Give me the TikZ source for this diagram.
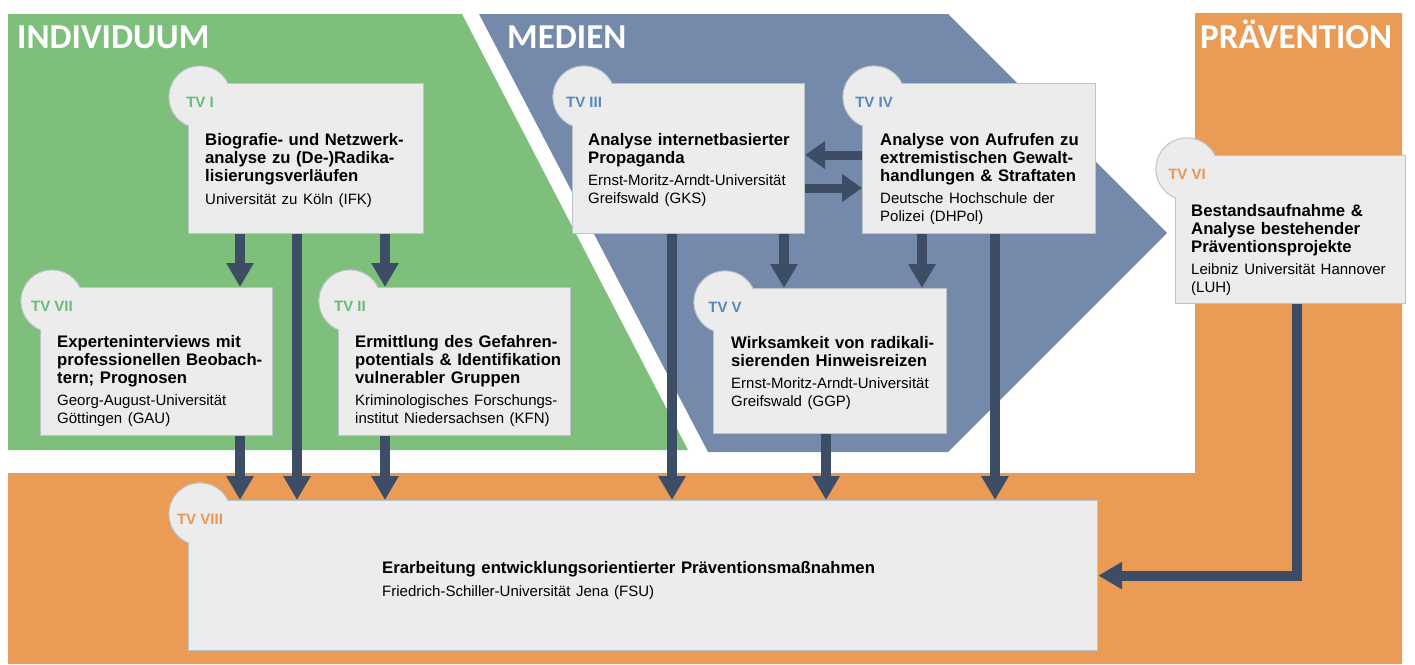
\documentclass[tikz,border=0pt]{standalone}
\usepackage{fontspec}
\setmainfont{Liberation Sans}
\newfontfamily\headfont{Carlito}
\usepackage{tikz}
\usetikzlibrary{arrows.meta,positioning}

\definecolor{indgreen}{RGB}{126,192,123}
\definecolor{medblue}{RGB}{117,138,170}
\definecolor{prevorange}{RGB}{234,156,86}
\definecolor{arrowblue}{RGB}{61,77,101}
\definecolor{boxgray}{RGB}{236,236,237}
\definecolor{boxline}{RGB}{188,195,203}
\definecolor{lblgreen}{RGB}{104,187,120}
\definecolor{lblblue}{RGB}{90,135,185}
\definecolor{lblorange}{RGB}{235,150,80}

\newcommand{\tvinst}{\par\vspace{5pt}\fontsize{15}{17}\selectfont\mdseries}

\begin{document}
\begin{tikzpicture}[x=1pt,y=-1pt]
	\tikzset{
		area title/.style={anchor=base west, inner sep=0pt, text=white, font=\headfont\bfseries\fontsize{35}{35}\selectfont},
		tvbox/.style={rectangle, draw=boxline, line width=1.2pt, fill=boxgray, anchor=north west, inner sep=0pt},
		bubble/.style={circle, draw=boxline, line width=1.2pt, fill=boxgray, minimum size=62pt, inner sep=0pt},
		cover/.style={circle, fill=boxgray, minimum size=60.8pt, inner sep=0pt, text height=21pt, text depth=0pt, font=\fontsize{15}{15}\selectfont\bfseries},
		tvtext/.style={anchor=base west, align=left, text width=520pt, inner sep=0pt, font=\fontsize{16.7}{18.3}\selectfont\bfseries},
		arr/.style={draw=arrowblue, line width=10pt, -{Triangle[width=26pt,length=24pt]}},
		sidearr/.style={draw=arrowblue, line width=9pt, -{Triangle[width=27pt,length=20pt]}}
	}
	\useasboundingbox (0,0) rectangle (1415,664);

	% areas
	\fill[indgreen] (8,14) -- (462,14) -- (688,450) -- (8,450) -- cycle;
	\fill[medblue] (479,14) -- (948,14) -- (1167,233) -- (948,452) -- (708,452) -- cycle;
	\fill[prevorange] (8,473) -- (1195,473) -- (1195,13) -- (1402,13) -- (1402,664) -- (8,664) -- cycle;
	\node[area title] (individuum) at (17,48) {INDIVIDUUM};
	\node[area title] (medien) at (507,48) {MEDIEN};
	\node[area title] (praevention) at (1200,48) {PRÄVENTION};

	% TV I
	\node[bubble] (b1b) at (200,97) {};
	\node[tvbox, minimum width=235pt, minimum height=150pt] (b1) at (188,83) {};
	\node[cover, text=lblgreen] (b1c) at (b1b) {TV I};
	\node[tvtext] (t1) at ([shift={(17,62)}]b1.north west) {Biografie- und Netzwerk-\\analyse zu (De-)Radika-\\lisierungsverläufen\tvinst Universität zu Köln (IFK)};

	% TV III
	\node[bubble] (b3b) at (584,97) {};
	\node[tvbox, minimum width=232pt, minimum height=150pt] (b3) at (572,83) {};
	\node[cover, text=lblblue] (b3c) at (b3b) {TV III};
	\node[tvtext] (t3) at ([shift={(16,62)}]b3.north west) {Analyse internetbasierter\\Propaganda\tvinst Ernst-Moritz-Arndt-Universität\\Greifswald (GKS)};

	% TV IV
	\node[bubble] (b4b) at (874,97) {};
	\node[tvbox, minimum width=233pt, minimum height=150pt] (b4) at (862,83) {};
	\node[cover, text=lblblue] (b4c) at (b4b) {TV IV};
	\node[tvtext] (t4) at ([shift={(18,62)}]b4.north west) {Analyse von Aufrufen zu\\extremistischen Gewalt-\\handlungen \& Straftaten\tvinst Deutsche Hochschule der\\Polizei (DHPol)};

	% TV VI
	\node[bubble] (b6b) at (1187,169) {};
	\node[tvbox, minimum width=230pt, minimum height=148pt] (b6) at (1175,155) {};
	\node[cover, text=lblorange] (b6c) at (b6b) {TV VI};
	\node[tvtext] (t6) at ([shift={(16,61)}]b6.north west) {Bestandsaufnahme \&\\Analyse bestehender\\Präventionsprojekte\tvinst Leibniz Universität Hannover\\(LUH)};

	% TV VII
	\node[bubble] (b7b) at (52,301) {};
	\node[tvbox, minimum width=232pt, minimum height=148pt] (b7) at (40,287) {};
	\node[cover, text=lblgreen] (b7c) at (b7b) {TV VII};
	\node[tvtext] (t7) at ([shift={(17,60)}]b7.north west) {Experteninterviews mit\\professionellen Beobach-\\tern; Prognosen\tvinst Georg-August-Universität\\Göttingen (GAU)};

	% TV II
	\node[bubble] (b2b) at (350,301) {};
	\node[tvbox, minimum width=232pt, minimum height=148pt] (b2) at (338,287) {};
	\node[cover, text=lblgreen] (b2c) at (b2b) {TV II};
	\node[tvtext] (t2) at ([shift={(17,60)}]b2.north west) {Ermittlung des Gefahren-\\potentials \& Identifikation\\vulnerabler Gruppen\tvinst Kriminologisches Forschungs-\\institut Niedersachsen (KFN)};

	% TV V
	\node[bubble] (b5b) at (725,302) {};
	\node[tvbox, minimum width=233pt, minimum height=145pt] (b5) at (713,288) {};
	\node[cover, text=lblblue] (b5c) at (b5b) {TV V};
	\node[tvtext] (t5) at ([shift={(18,60)}]b5.north west) {Wirksamkeit von radikali-\\sierenden Hinweisreizen\tvinst Ernst-Moritz-Arndt-Universität\\Greifswald (GGP)};

	% TV VIII
	\node[bubble] (b8b) at (200,514) {};
	\node[tvbox, minimum width=909pt, minimum height=150pt] (b8) at (188,500) {};
	\node[cover, text=lblorange] (b8c) at (b8b) {TV VIII};
	\node[tvtext] (t8) at ([shift={(194,73)}]b8.north west) {Erarbeitung entwicklungsorientierter Präventionsmaßnahmen\tvinst Friedrich-Schiller-Universität Jena (FSU)};

	% connections
	\draw[arr] ([xshift=52pt]b1.south west) -- ([xshift=200pt]b7.north west);
	\draw[arr] ([xshift=109pt]b1.south west) -- ([xshift=109pt]b8.north west);
	\draw[arr] ([xshift=197pt]b1.south west) -- ([xshift=47pt]b2.north west);
	\draw[arr] ([xshift=200pt]b7.south west) -- ([xshift=52pt]b8.north west);
	\draw[arr] ([xshift=47pt]b2.south west) -- ([xshift=197pt]b8.north west);
	\draw[arr] ([xshift=100pt]b3.south west) -- ([xshift=484pt]b8.north west);
	\draw[arr] ([xshift=212pt]b3.south west) -- ([xshift=71pt]b5.north west);
	\draw[arr] ([xshift=60pt]b4.south west) -- ([xshift=209pt]b5.north west);
	\draw[arr] ([xshift=133pt]b4.south west) -- ([xshift=807pt]b8.north west);
	\draw[arr] ([xshift=113pt]b5.south west) -- ([xshift=638pt]b8.north west);
	\draw[arr] ([xshift=122pt]b6.south west) |- (b8.east);
	\draw[sidearr] ([yshift=-72pt]b4.north west) -- ([yshift=-72pt]b3.north east);
	\draw[sidearr] ([yshift=-105pt]b3.north east) -- ([yshift=-105pt]b4.north west);
\end{tikzpicture}
\end{document}
